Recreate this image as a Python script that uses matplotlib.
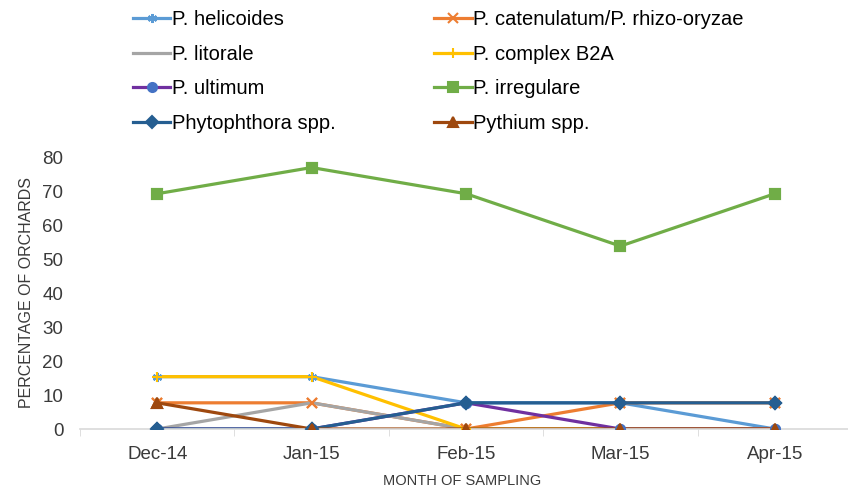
import matplotlib.pyplot as plt
import numpy as np

plt.rcParams['font.family'] = ['Liberation Sans', 'DejaVu Sans']

# 采样月份
months = ['Dec-14', 'Jan-15', 'Feb-15', 'Mar-15', 'Apr-15']

# 各物种检出果园百分比
helicoides = [15.4, 15.4, 7.7, 7.7, 0]
catenulatum = [7.7, 7.7, 0, 7.7, 7.7]
litorale = [0, 7.7, 0, 0, 0]
complex_b2a = [15.4, 15.4, 0, 0, 0]
ultimum = [0, 0, 7.7, 0, 0]
irregulare = [69.2, 76.9, 69.2, 53.8, 69.2]
phytophthora = [0, 0, 7.7, 7.7, 7.7]
pythium = [7.7, 0, 0, 0, 0]

series = [
    ('P. helicoides', helicoides, '#5B9BD5', (6, 2, 0), '#5B9BD5'),
    ('P. catenulatum/P. rhizo-oryzae', catenulatum, '#ED7D31', 'x', '#ED7D31'),
    ('P. litorale', litorale, '#A5A5A5', None, '#A5A5A5'),
    ('P. complex B2A', complex_b2a, '#FFC000', '+', '#FFC000'),
    ('P. ultimum', ultimum, '#7030A0', 'o', '#4472C4'),
    ('P. irregulare', irregulare, '#70AD47', 's', '#70AD47'),
    ('Phytophthora spp.', phytophthora, '#255E91', 'D', '#255E91'),
    ('Pythium spp.', pythium, '#9E480E', '^', '#9E480E'),
]

fig = plt.figure(figsize=(8.48, 4.91), dpi=100)
ax = fig.add_axes([80 / 848, 1 - 429 / 491, 772 / 848, 272 / 491])

x = np.arange(len(months))
for label, vals, color, marker, mcolor in series:
    ax.plot(x, vals, color=color, lw=2.3, marker=marker, ms=6.5, mew=1.5,
            mfc=mcolor, mec=mcolor, label=label, zorder=2)
for label, vals, color, marker, mcolor in series:
    # 标记画在所有线条上方
    if marker is not None:
        ax.plot(x, vals, ls='none', marker=marker, ms=6.5, mew=1.5,
                mfc=mcolor, mec=mcolor, zorder=3)

ax.set_xlim(-0.5, 4.5)
ax.set_ylim(0, 80)
ax.set_yticks(np.arange(0, 81, 10))
ax.set_xticks(x)
ax.set_xticklabels(months)
ax.set_xticks(np.arange(-0.5, 4.6, 1), minor=True)
ax.tick_params(axis='x', which='major', length=0, pad=12, labelsize=13.5, labelcolor='#3a3a3a')
ax.tick_params(axis='x', which='minor', length=5, color='#D9D9D9')
ax.tick_params(axis='y', length=0, pad=12, labelsize=13.5, labelcolor='#3a3a3a')

for s in ['top', 'right', 'left']:
    ax.spines[s].set_visible(False)
ax.spines['bottom'].set_color('#D9D9D9')
ax.spines['bottom'].set_linewidth(1.2)

ax.set_ylabel('PERCENTAGE OF ORCHARDS', fontsize=11.5, color='#3a3a3a')
ax.yaxis.set_label_coords(-0.06, 0.5)
ax.set_xlabel('MONTH OF SAMPLING', fontsize=10.5, color='#3a3a3a')
ax.xaxis.set_label_coords(0.495, -0.165)

# 图例按两列排列
handles, labels = ax.get_legend_handles_labels()
order = [0, 2, 4, 6, 1, 3, 5, 7]
fig.legend([handles[i] for i in order], [labels[i] for i in order],
           loc='upper left', bbox_to_anchor=(121 / 848, 1.0 + 2 / 491), ncol=2,
           frameon=False, fontsize=14.5, handlelength=1.85, handletextpad=0.08,
           labelspacing=0.77, columnspacing=4.9, borderaxespad=0.2)

plt.savefig('out.png', dpi=100)
